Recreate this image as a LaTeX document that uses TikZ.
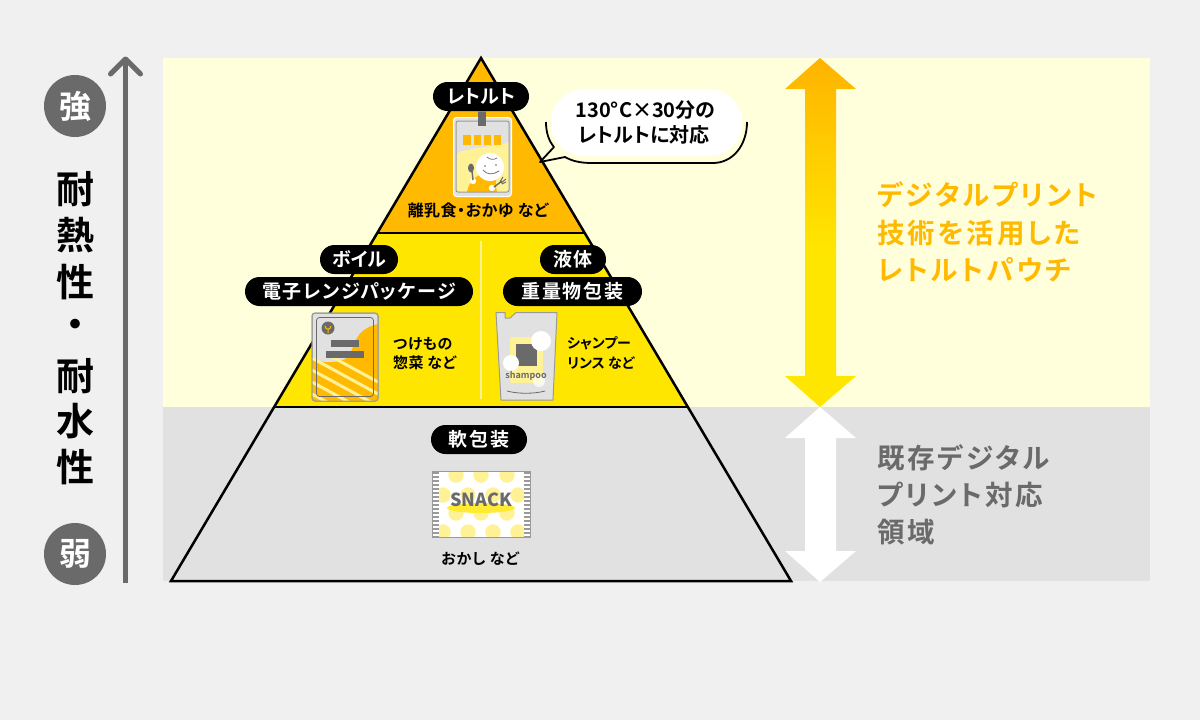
\documentclass[tikz,border=0pt]{standalone}
\usepackage{fontspec}
\setmainfont{Noto Sans CJK JP}[BoldFont={Noto Sans CJK JP Bold},RawFeature=+palt]
\newfontfamily\logofont{Noto Sans CJK JP Black}
\usepackage{tikz}
\usetikzlibrary{arrows,shapes}
\definecolor{bgGrey}{HTML}{F0F0F0}
\definecolor{paleBand}{HTML}{FFFFDC}
\definecolor{greyBand}{HTML}{E1E1E1}
\definecolor{darkGrey}{HTML}{6A6A6A}
\definecolor{midGrey}{HTML}{9A9A9A}
\definecolor{orangeTier}{HTML}{FFB900}
\definecolor{yellowTier}{HTML}{FFE600}
\definecolor{paleYellow}{HTML}{FFF296}
\newcommand{\spaced}[1]{\addfontfeatures{LetterSpace=#1}}
\tikzset{
  pill/.style={fill=black,text=white,rounded corners=14.5pt,minimum height=29pt,inner sep=0pt,font=\fontsize{19}{19}\bfseries},
  tierline/.style={line width=2.5pt,black},
  sidelabel/.style={anchor=west,inner sep=0pt,font=\fontsize{27.5}{27.5}\bfseries\spaced{10}},
  smalllabel/.style={anchor=west,inner sep=0pt,font=\fontsize{15}{15}\bfseries\spaced{3}},
  levelmark/.style={circle,fill=darkGrey,text=white,minimum size=62pt,inner sep=0pt,font=\fontsize{32}{32}\bfseries},
  axischar/.style={inner sep=0pt,font=\fontsize{38}{38}\bfseries}
}
\begin{document}
\begin{tikzpicture}[x=1pt,y=-1pt]
  \useasboundingbox[fill=bgGrey] (0,0) rectangle (1200,720);
  \fill[paleBand] (163,58) rectangle (1150,407);
  \fill[greyBand] (163,407) rectangle (1150,581);

  \draw[darkGrey,line width=5pt] (125.5,583) -- (125.5,59);
  \draw[darkGrey,line width=5pt,line cap=round,line join=round] (110.5,74) -- (125.5,59) -- (140.5,74);
  \node[levelmark] (strong) at (75,106) {強};
  \node[levelmark] (weak) at (75,554) {弱};
  \foreach \c/\y [count=\i] in {耐/189,熱/235,性/282,・/329,耐/376,水/421,性/467}
    \node[axischar] (axis\i) at (75,\y) {\c};

  \fill[greyBand] (171,581) -- (274,407) -- (688,407) -- (791,581) -- cycle;
  \fill[yellowTier] (274,407) -- (377,233) -- (585,233) -- (688,407) -- cycle;
  \fill[orangeTier] (377,233) -- (481,58) -- (585,233) -- cycle;
  \draw[tierline,line join=miter] (171,581) -- (481,58) -- (791,581) -- cycle;
  \draw[tierline] (377,233) -- (585,233);
  \draw[tierline] (274,407) -- (688,407);
  \draw[paleYellow,line width=1.5pt] (481,241) -- (481,399);

  \begin{scope}
    \clip (820,58) -- (856,89) -- (836,89) -- (836,376) -- (856,376) -- (820,407) -- (785,376) -- (805,376) -- (805,89) -- (785,89) -- cycle;
    \shade[top color=orangeTier!90!orange,bottom color=yellowTier] (780,58) rectangle (860,250);
    \fill[yellowTier] (780,249.5) rectangle (860,408);
  \end{scope}
  \fill[white] (820,407) -- (856,438) -- (836,438) -- (836,551) -- (856,551) -- (820,582) -- (785,551) -- (805,551) -- (805,438) -- (785,438) -- cycle;

  \node[sidelabel,text=orangeTier] (digitalA) at (877,195) {デジタルプリント};
  \node[sidelabel,text=orangeTier] (digitalB) at (877,233) {技術を活用した};
  \node[sidelabel,text=orangeTier] (digitalC) at (877,270) {レトルトパウチ};
  \node[sidelabel,text=darkGrey] (existA) at (877,458) {既存デジタル};
  \node[sidelabel,text=darkGrey] (existB) at (877,495) {プリント対応};
  \node[sidelabel,text=darkGrey] (existC) at (877,532) {領域};

  \fill[white,rounded corners=33pt] (551,89) rectangle (742,156);
  \draw[line width=1.8pt,line join=round] (546,122) .. controls (546,133) and (549,141) .. (554,147) -- (540,162) -- (565,157) .. controls (572,161) and (580,163) .. (592,163) -- (713,163) .. controls (733,163) and (747,145) .. (747,122);
  \node[inner sep=0pt,font=\fontsize{20}{20}\bfseries] (noteA) at (645.5,110) {130°C×30分の};
  \node[inner sep=0pt,font=\fontsize{20}{20}\bfseries] (noteB) at (644,135) {レトルトに対応};

  \draw[white,fill=greyBand,line width=1pt,rounded corners=3pt] (453.5,117.5) rectangle (511.5,196.5);
  \begin{scope}
    \clip[rounded corners=2pt] (456,121) rectangle (509,192);
    \fill[paleYellow] (456,155) .. controls (462,148) and (466,152) .. (472,149) .. controls (485,146) and (498,147) .. (509,142) -- (509,192) -- (456,192) -- cycle;
    \fill[orangeTier] (467,192) .. controls (469,181) and (476,175) .. (484,174) -- (497,177) .. controls (495,182) and (496,187) .. (497,192) -- cycle;
    \fill[white] (490,167) circle (14pt);
    \fill[white] (473,181) circle (3.2pt) (492,188) circle (3.2pt);
  \end{scope}
  \draw[midGrey,line width=1pt,rounded corners=2pt] (456,121) rectangle (509,192);
  \draw[darkGrey,line width=.7pt] (487,157) .. controls (490,160) and (494,160) .. (497,158) (483,170) .. controls (487,175) and (493,175) .. (499,171);
  \fill[darkGrey] (485,166) circle (.9pt) (496,165) circle (.9pt);
  \fill[darkGrey] (471,168) ellipse (3pt and 4.5pt);
  \draw[darkGrey,line width=1.4pt] (472,171) -- (473,180);
  \draw[darkGrey,line width=1.4pt] (494,187) -- (502,181);
  \draw[darkGrey,line width=1pt] (500,182) -- (503,177) (501,183) -- (506,179) (502,184) -- (506,182);
  \foreach \x in {463.3,473.5,483.7,494}
    \fill[orangeTier] (\x,135) rectangle +(7.2,10);
  \fill[darkGrey] (478,111) rectangle (486,126);
  \fill[midGrey] (478,109) rectangle (486,112);

  \draw[midGrey,fill=greyBand,line width=1pt,rounded corners=3pt] (312,313) rectangle (378,401);
  \begin{scope}
    \clip[rounded corners=3pt] (312,313) rectangle (378,401);
    \fill[orangeTier] (312,358) .. controls (320,362) and (333,365) .. (347,358) .. controls (356,348) and (352,330) .. (378,324) -- (378,401) -- (312,401) -- cycle;
    \clip (312,358) -- (345,358) -- (378,375) -- (378,401) -- (312,401) -- cycle;
    \foreach \s in {-36,-24,...,84}
      \draw[paleYellow,line width=3pt] (312,334+\s) -- (378,370+\s);
  \end{scope}
  \draw[midGrey,line width=1pt,rounded corners=3pt] (312,313) rectangle (378,401);
  \draw[darkGrey,line width=.8pt,rounded corners=3pt] (316.5,317.5) rectangle (373.5,396.5);
  \fill[darkGrey] (328,328) circle (6.5pt);
  \draw[orangeTier,line width=1pt] (328,333) -- (328,329) (325,326) .. controls (325,329) and (327,329) .. (328,329) .. controls (329,329) and (331,329) .. (331,326);
  \fill[darkGrey] (331,340) rectangle (359,347);
  \fill[darkGrey] (326,351) rectangle (364,358);

  \draw[midGrey,fill=greyBand,line width=1pt,line join=round] (496,312.5) -- (505,312.5) -- (505,318) -- (510,318) -- (516,312.5) -- (557,312.5) -- (553,400) -- (501,400) -- cycle;
  \fill[paleYellow,rounded corners=2pt] (510,337) rectangle (543,383);
  \fill[darkGrey] (516,344) rectangle (537,366);
  \draw[darkGrey,line width=.8pt] (507,391) .. controls (518,394) and (534,394) .. (545,391);
  \fill[white] (541,341) circle (10pt) (511,363) circle (8pt);
  \fill[white,opacity=.7] (539,381) circle (6pt);
  \node[inner sep=0pt,text=darkGrey,font=\fontsize{9}{9}\bfseries] (shampooText) at (526,376) {shampoo};

  \fill[white] (432,471) rectangle (530,537);
  \begin{scope}
    \clip (432,471) rectangle (530,537);
    \foreach \x in {456,481,507} {
      \fill[paleYellow] (\x,475) circle (7.7pt);
      \fill[paleYellow] (\x,513) circle (7.7pt);
    }
    \foreach \x in {443,468,493,518} {
      \fill[paleYellow] (\x,495) circle (7.7pt);
      \fill[paleYellow] (\x,532) circle (7.7pt);
    }
  \end{scope}
  \fill[yellowTier!80!white] (481,508) ellipse (34pt and 5pt);
  \foreach \x in {432,523.5} {
    \fill[white] (\x,471) rectangle +(6.5,66);
    \foreach \y in {472,476,...,536}
      \fill[midGrey] (\x,\y) rectangle +(6.5,2);
  }
  \draw[midGrey,line width=1pt] (432,471) rectangle (530,537);
  \node[inner sep=0pt,text=darkGrey,font=\fontsize{18}{18}\logofont] (snackText) at (481,500) {SNACK};

  \node[pill,minimum width=96pt] (retort) at (481,96.5) {レトルト};
  \node[pill,minimum width=78pt] (boil) at (359,259.5) {ボイル};
  \node[pill,minimum width=228pt] (microwave) at (359,291.5) {\spaced{8}電子レンジパッケージ};
  \node[pill,minimum width=66pt] (liquid) at (573,259.5) {\spaced{5}液体};
  \node[pill,minimum width=139pt] (heavy) at (572.5,291.5) {\spaced{10}重量物包装};
  \node[pill,minimum width=96pt] (pouch) at (479,439.5) {\spaced{10}軟包装};

  \node[inner sep=0pt,font=\fontsize{16}{16}\bfseries\spaced{3}] (babyfood) at (478,210) {離乳食・おかゆ など};
  \node[smalllabel] (pickleA) at (393,344) {つけもの};
  \node[smalllabel] (pickleB) at (393,363) {惣菜 など};
  \node[smalllabel,font=\fontsize{14}{14}\bfseries] (rinseA) at (567,343) {シャンプー};
  \node[smalllabel,font=\fontsize{14}{14}\bfseries] (rinseB) at (567,363) {リンス など};
  \node[inner sep=0pt,font=\fontsize{15}{15}\bfseries\spaced{6}] (snacklabel) at (480,559) {おかし など};
\end{tikzpicture}
\end{document}
